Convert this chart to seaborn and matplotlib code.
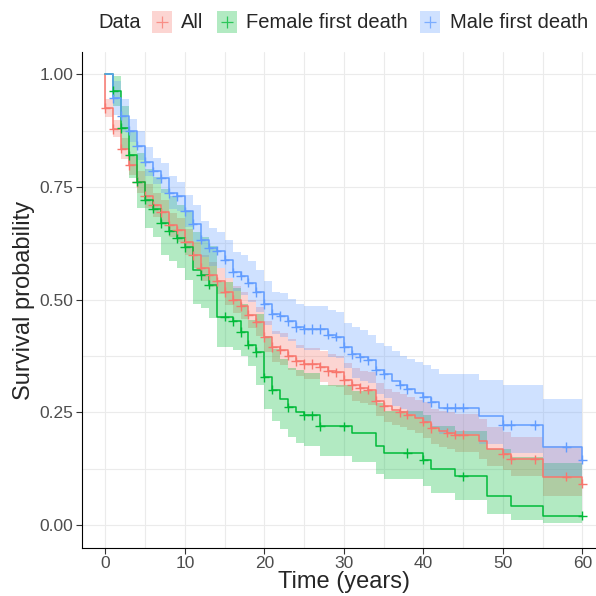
import numpy as np
import pandas as pd
import matplotlib
matplotlib.use("Agg")
import matplotlib.pyplot as plt
from matplotlib.lines import Line2D
from matplotlib.patches import Rectangle
from matplotlib.ticker import MultipleLocator, FixedLocator
import seaborn as sns

# ---------------------------------------------------------------- data
groups = ["All", "Female first death", "Male first death"]
colors = ["#F8766D", "#00BA38", "#619CFF"]

# Kaplan-Meier estimate (step times in years) with 95% confidence limits
all_time = [0, 0, 1, 2, 3, 4, 5, 6, 7, 8, 9, 10, 11, 12, 13, 14, 15, 16, 17, 18,
            19, 20, 21, 22, 23, 24, 25, 27, 28, 29, 30, 31, 32, 33, 34, 35, 36,
            37, 38, 39, 40, 41, 42, 43, 44, 47, 48, 50, 51, 55, 60]
all_surv = [1.0, .925, .879, .835, .799, .761, .730, .709, .694, .665, .654, .628,
            .598, .570, .555, .541, .517, .500, .485, .467, .450, .417,
            .395, .389, .376, .363, .357,
            .351, .342, .339, .322, .310, .304, .300, .276, .263, .256, .251, .245,
            .237, .229, .215, .209, .205, .200,
            .186, .169, .158, .146, .107, .092]
all_upper = [1.0, .945, .899, .858, .823, .786, .757, .736, .721, .693, .682, .657,
             .627, .599, .584, .571, .548, .531, .516, .499, .483, .453,
             .431, .425, .412, .399, .393,
             .387, .379, .376, .360, .348, .342, .339, .315, .302, .295, .290, .285,
             .277, .272, .258, .253, .250, .247,
             .235, .218, .207, .196, .175, .160]
all_lower = [1.0, .906, .860, .813, .776, .737, .704, .683, .668, .638, .627, .600,
             .570, .542, .527, .513, .488, .471, .456, .437, .419, .384,
             .362, .356, .343, .330, .324,
             .318, .309, .306, .288, .276, .270, .266, .242, .229, .222, .217, .211,
             .203, .193, .179, .173, .168, .162,
             .147, .131, .121, .109, .064, .050]
all_cens = list(range(0, 36)) + [37, 38, 40, 41, 43, 44, 45, 50, 51, 54, 58, 60]

fem_time = [0, 1, 2, 3, 4, 5, 6, 7, 8, 9, 10, 11, 12, 13, 14, 16, 17, 18, 19, 20,
            21, 22, 23, 24, 25, 27, 31, 34, 35, 40, 41, 44, 48, 51, 55, 60]
fem_surv = [1.0, .963, .881, .820, .762, .722, .702, .669, .653, .636, .616, .565,
            .555, .533, .462, .452, .428, .400, .384, .328, .300, .280, .261, .251,
            .243, .219, .204, .175, .160, .145, .125, .108, .065, .043, .021, .021]
fem_upper = [1.0, .997, .930, .873, .826, .791, .772, .746, .729, .710, .697, .651,
             .640, .619, .540, .525, .490, .455, .468, .420, .390, .368, .349, .344,
             .337, .311, .297, .271, .253, .245, .220, .208, .169, .150, .138, .138]
fem_lower = [1.0, .930, .835, .770, .703, .659, .638, .600, .585, .570, .544, .490,
             .481, .459, .395, .389, .374, .352, .311, .257, .230, .213, .195, .183,
             .175, .154, .140, .113, .101, .086, .071, .056, .025, .012, .004, .004]
fem_cens = [1, 2, 3, 4, 5, 6, 7, 8, 9, 10, 12, 13, 15, 16, 17, 18, 19, 20, 21, 23,
            25, 26, 27, 30, 38, 40, 45, 60]

male_time = list(range(0, 26)) + [28, 29, 30, 31, 32, 33, 34, 35, 36, 37, 38, 39,
                                  40, 41, 42, 47, 50, 55, 60]
male_surv = [1.0, .947, .908, .875, .842, .806, .785, .769, .737, .729, .696,
             .668, .633, .615, .609, .589, .561, .553, .538, .517, .490,
             .468, .464, .452, .439, .435,
             .422, .418, .395, .379, .372, .365, .343, .335, .319, .311, .302, .293,
             .284, .273, .260, .241, .222, .173, .145]
male_upper = [1.0, .985, .945, .901, .874, .839, .814, .803, .774, .762, .733,
              .709, .675, .659, .651, .633, .605, .598, .585, .565, .541,
              .518, .515, .501, .490, .487,
              .478, .472, .448, .439, .433, .422, .404, .398, .385, .376, .369, .362,
              .354, .345, .334, .322, .310, .280, .280]
male_lower = [1.0, .910, .872, .850, .811, .774, .757, .736, .702, .697, .661,
              .629, .594, .574, .570, .548, .520, .511, .495, .473, .444,
              .423, .418, .408, .393, .389,
              .373, .370, .348, .327, .320, .316, .291, .282, .264, .257, .247, .237,
              .228, .216, .202, .180, .159, .107, .107]
male_cens = list(range(1, 36)) + [37, 38, 40, 41, 43, 44, 45, 50, 51, 54, 58, 60]

series = {
    "All": (all_time, all_surv, all_lower, all_upper, all_cens),
    "Female first death": (fem_time, fem_surv, fem_lower, fem_upper, fem_cens),
    "Male first death": (male_time, male_surv, male_lower, male_upper, male_cens),
}

curves, marks = [], []
for name, (t, s, lo, up, cens) in series.items():
    curves.append(pd.DataFrame({"time": t, "surv": s, "lower": lo, "upper": up,
                                "Data": name}))
    t_arr = np.asarray(t, dtype=float)
    idx = np.searchsorted(t_arr, cens, side="right") - 1
    marks.append(pd.DataFrame({"time": cens, "surv": np.asarray(s)[idx], "Data": name}))
curves = pd.concat(curves, ignore_index=True)
marks = pd.concat(marks, ignore_index=True)
palette = dict(zip(groups, colors))

# ---------------------------------------------------------------- style
sns.set_theme(style="white")
plt.rcParams["font.family"] = ["Liberation Sans", "DejaVu Sans"]

W = H = 596
fig = plt.figure(figsize=(W / 100, H / 100), dpi=100)


def fx(px):
    return px / W


def fy(py):
    return 1 - py / H


ax = fig.add_axes([fx(81.5), fy(547.5), (606.2 - 81.5) / W, (547.5 - 51.8) / H])

# confidence bands
for name in groups:
    d = curves[curves["Data"] == name]
    ax.fill_between(d["time"], d["lower"], d["upper"], step="post",
                    color=palette[name], alpha=0.3, linewidth=0, zorder=2)

# survival step curves
sns.lineplot(data=curves, x="time", y="surv", hue="Data", palette=palette,
             estimator=None, sort=False, drawstyle="steps-post", linewidth=1.1,
             legend=False, ax=ax, zorder=3)

# censoring marks
sns.scatterplot(data=marks, x="time", y="surv", hue="Data", palette=palette,
                marker="+", s=45, linewidth=1.0, legend=False, ax=ax, zorder=4)

ax.set_xlim(-3, 63)
ax.set_ylim(-0.05, 1.05)
ax.xaxis.set_major_locator(MultipleLocator(10))
ax.xaxis.set_minor_locator(MultipleLocator(5))
ax.yaxis.set_major_locator(FixedLocator([0, 0.25, 0.5, 0.75, 1.0]))
ax.yaxis.set_minor_locator(FixedLocator([0.125, 0.375, 0.625, 0.875]))
ax.set_yticklabels(["0.00", "0.25", "0.50", "0.75", "1.00"])
ax.grid(which="both", color="#EBEBEB", linewidth=0.8, zorder=0)
ax.set_axisbelow(True)
for side in ["top", "right"]:
    ax.spines[side].set_visible(False)
for side in ["left", "bottom"]:
    ax.spines[side].set_color("black")
    ax.spines[side].set_linewidth(0.8)
ax.tick_params(axis="both", which="major", length=4, width=0.8, color="#333333",
               labelsize=12.5, labelcolor="#4D4D4D", pad=2, left=True, bottom=True)
ax.tick_params(axis="both", which="minor", length=0)
ax.set_xlabel("")
ax.set_ylabel("")

fig.text(fx(344), fy(582), "Time (years)", fontsize=17, ha="center", va="center")
fig.text(fx(24), fy(300), "Survival probability", fontsize=17, ha="center",
         va="center", rotation=90)

# legend row across the top: title, then a filled key with a "+" per group
legend_y = 22
fig.text(fx(98), fy(legend_y), "Data", fontsize=14.5, ha="left", va="center")
key_left = [152, 217, 420]
label_left = [181, 246, 450]
for name, c, kx, lx in zip(groups, colors, key_left, label_left):
    fig.add_artist(Rectangle((fx(kx), fy(legend_y + 11)), 20 / W, 22 / H,
                             transform=fig.transFigure, facecolor=c, alpha=0.3,
                             edgecolor="none"))
    fig.add_artist(Line2D([fx(kx + 10)], [fy(legend_y)], transform=fig.transFigure,
                          color=c, marker="+", linestyle="none", markersize=8,
                          markeredgewidth=0.9, alpha=0.75))
    fig.text(fx(lx), fy(legend_y), name, fontsize=14.5, ha="left", va="center")

fig.savefig("out.png", dpi=100)
